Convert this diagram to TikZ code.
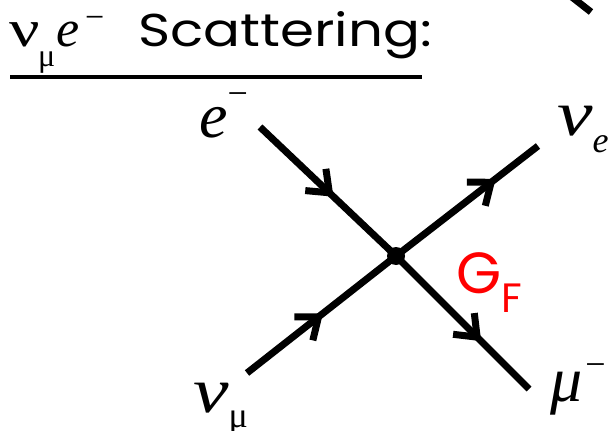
\documentclass[tikz,border=0pt]{standalone}
\usepackage{fontspec}
\setmainfont{Liberation Serif}
\newfontfamily\comic{Poppins}
\usetikzlibrary{decorations.markings}
\definecolor{gfred}{RGB}{255,0,0}
\tikzset{
  fermion/.style={line width=7pt, postaction={decorate},
    decoration={markings, mark=at position #1 with {\draw[line width=7pt, line join=miter] (-19pt,15pt) -- (0pt,0pt) -- (-19pt,-15pt);}}},
  plain/.style={line width=7pt},
  lbl/.style={inner sep=0pt, anchor=base west, font=\fontsize{64}{64}\selectfont\itshape},
}
\newcommand{\smallsz}{\fontsize{36}{36}\selectfont\upshape}
\newcommand{\wnu}{\scalebox{1.25}[1]{ν}}
\begin{document}
\begin{tikzpicture}[x=1pt,y=-1pt]
\useasboundingbox (0,0) rectangle (616,431);
% title
\node[anchor=base west, inner sep=0pt, font=\fontsize{52}{52}\selectfont] (title) at (9,46)
  {\rlap{\scalebox{1.3}[1]{ν}}\hspace{29pt}\rlap{\raisebox{-20pt}{\fontsize{32}{32}\selectfont μ}}\hspace{18pt}\rlap{\textit{e}}\hspace{29pt}\rlap{\raisebox{18pt}{\fontsize{34}{34}\selectfont −}}\hspace{53pt}{\comic\fontsize{46}{46}\selectfont\scalebox{1.19}[1]{Scattering:}}};
\coordinate (ulA) at (10,77);
\coordinate (ulB) at (422,77);
\draw[line width=4.5pt] (ulA) -- (ulB);
% partial stroke top right
\coordinate (trA) at (568,-6);
\coordinate (trB) at (591,12);
\draw[plain] (trA) -- (trB);
% vertex and line ends
\coordinate (vtx) at (396,256);
\coordinate (ein) at (260,127);
\coordinate (muout) at (529,389);
\coordinate (numin) at (247,373);
\coordinate (neout) at (538,146);
\draw[fermion=0.51] (ein) -- (vtx);
\draw[fermion=0.61] (vtx) -- (muout);
\draw[fermion=0.48] (numin) -- (vtx);
\draw[fermion=0.67] (vtx) -- (neout);
\fill (vtx) circle (9pt);
% labels
\node[lbl] (le) at (199,137) {e\raisebox{32pt}{\smallsz −}};
\node[lbl] (lnue) at (557,135) {\wnu\raisebox{-17pt}{\fontsize{36}{36}\selectfont e}};
\node[lbl] (lnumu) at (193,412) {\wnu\raisebox{-15pt}{\smallsz μ}};
\node[lbl] (lmu) at (550,401) {μ\hspace{3pt}\raisebox{25pt}{\smallsz −}};
\node[anchor=base west, inner sep=0pt, text=gfred, font=\comic\fontsize{58}{58}\selectfont] (gf) at (456,293)
  {G\raisebox{-19pt}{\fontsize{41}{41}\selectfont F}};
\end{tikzpicture}
\end{document}
